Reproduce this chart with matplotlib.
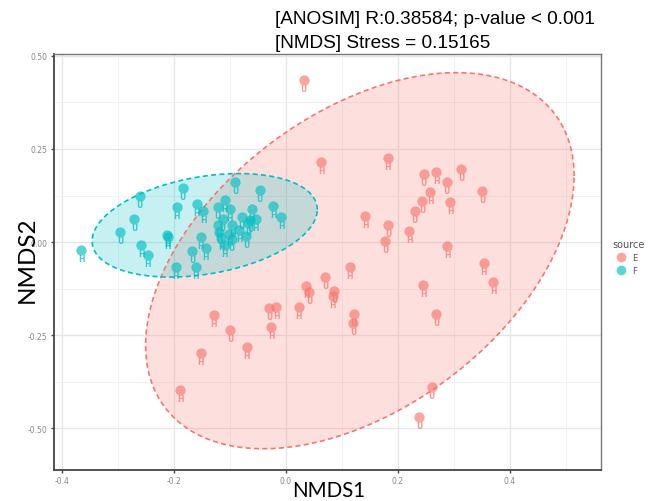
import numpy as np
import matplotlib.pyplot as plt
from matplotlib.lines import Line2D

# source E (red)
e_x = [0.032, 0.063, 0.182, 0.246, 0.268, 0.313, 0.287, 0.258, 0.350, 0.243,
       0.293, 0.230, 0.142, 0.183, 0.220, 0.177, 0.288, 0.114, 0.070, 0.353,
       0.370, 0.086, 0.084, 0.245, 0.121, 0.120, 0.268, 0.036, 0.042, 0.023,
       -0.030, -0.017, -0.026, -0.070, -0.100, -0.129, -0.152, -0.189, 0.260, 0.238]
e_y = [0.436, 0.214, 0.226, 0.183, 0.187, 0.195, 0.161, 0.134, 0.136, 0.110,
       0.108, 0.083, 0.070, 0.047, 0.030, 0.003, -0.011, -0.068, -0.093, -0.055,
       -0.106, -0.132, -0.144, -0.116, -0.194, -0.217, -0.193, -0.117, -0.134, -0.174,
       -0.178, -0.175, -0.227, -0.282, -0.237, -0.196, -0.299, -0.396, -0.389, -0.469]
e_lab = ['U', 'H', 'H', 'U', 'H', 'U', 'U', 'H', 'U', 'U',
         'H', 'U', 'H', 'U', 'H', 'U', 'H', 'H', 'U', 'H',
         'H', 'U', 'H', 'H', 'U', 'U', 'U', 'H', 'U', 'H',
         'U', 'H', 'H', 'H', 'U', 'H', 'H', 'H', 'U', 'U']

# source F (cyan)
f_x = [-0.365, -0.296, -0.271, -0.261, -0.258, -0.247, -0.212, -0.211, -0.197, -0.195,
       -0.184, -0.167, -0.161, -0.159, -0.152, -0.148, -0.143, -0.122, -0.109, -0.100,
       -0.090, -0.047, -0.023, -0.008, -0.113, -0.121, -0.119, -0.096, -0.079, -0.061,
       -0.064, -0.054, -0.083, -0.071, -0.101, -0.109, -0.097, -0.115, -0.067]
f_y = [-0.020, 0.028, 0.061, 0.123, -0.009, -0.035, 0.019, 0.013, -0.068, 0.094,
       0.144, -0.025, -0.068, 0.101, 0.013, 0.083, -0.017, 0.094, 0.114, 0.090,
       0.161, 0.139, 0.096, 0.068, 0.063, 0.045, 0.028, 0.045, 0.068, 0.088,
       0.059, 0.063, 0.032, 0.017, 0.023, -0.008, 0.008, 0.010, 0.050]
f_lab = ['H', 'U', 'U', 'U', 'H', 'H', 'H', 'H', 'H', 'H',
         'U', 'U', 'H', 'H', 'H', 'H', 'H', 'U', 'H', 'H',
         'U', 'U', 'H', 'H', 'U', 'H', 'U', 'H', 'U', 'H',
         'U', 'H', 'H', 'U', 'H', 'H', 'U', 'H', 'U']

# ellipse centre and shape matrix per group
e_center = [0.132, -0.050]
e_shape = [[0.1463, 0.087], [0.087, 0.255]]
f_center = [-0.145, 0.045]
f_shape = [[0.0404, 0.0085], [0.0085, 0.0193]]

red = '#F8766D'
cyan = '#00BFC4'

fig = plt.figure(figsize=(6.48, 5.02), dpi=100)
ax = fig.add_axes([54 / 648, 31 / 502, 547 / 648, 416 / 502])


def draw_ellipse(center, shape, color):
    t = np.linspace(0, 2 * np.pi, 300)
    L = np.linalg.cholesky(np.array(shape))
    pts = np.array(center)[:, None] + L @ np.vstack([np.cos(t), np.sin(t)])
    ax.fill(pts[0], pts[1], color=color, alpha=0.22, lw=0, zorder=1)
    ax.plot(pts[0], pts[1], color=color, lw=1.2, ls=(0, (3, 2)), zorder=2)


draw_ellipse(e_center, e_shape, red)
draw_ellipse(f_center, f_shape, cyan)

for xs, ys, labs, col in [(e_x, e_y, e_lab, red), (f_x, f_y, f_lab, cyan)]:
    ax.scatter(xs, ys, s=55, color=col, alpha=0.65, lw=0, zorder=3)
    for x, y, lab in zip(xs, ys, labs):
        ax.annotate(lab, (x, y), xytext=(0, -8.5), textcoords='offset pixels',
                    ha='center', va='center', fontsize=5.5, fontweight='bold',
                    color=col, alpha=0.75, zorder=4)

ax.set_xlim(-0.414, 0.5625)
ax.set_ylim(-0.612, 0.505)
ax.set_xticks([-0.4, -0.2, 0.0, 0.2, 0.4])
ax.set_xticklabels(['-0.4', '-0.2', '0.0', '0.2', '0.4'])
ax.set_yticks([-0.5, -0.25, 0.0, 0.25, 0.5])
ax.set_yticklabels(['-0.50', '-0.25', '0.00', '0.25', '0.50'])
ax.set_xticks([-0.3, -0.1, 0.1, 0.3, 0.5], minor=True)
ax.set_yticks([-0.375, -0.125, 0.125, 0.375], minor=True)
ax.grid(True, which='major', color='#E6E6E6', lw=0.9)
ax.grid(True, which='minor', color='#F0F0F0', lw=0.6)
ax.set_axisbelow(True)
ax.tick_params(which='major', length=2.5, width=1, colors='#444444', labelsize=5.5,
               labelcolor='#888888', pad=2)
ax.tick_params(which='minor', length=0)
for side in ['left', 'bottom']:
    ax.spines[side].set_color('#444444')
    ax.spines[side].set_linewidth(1.3)
for side in ['top', 'right']:
    ax.spines[side].set_color('#777777')
    ax.spines[side].set_linewidth(1.0)

fig.text(329 / 648, 1 - 491 / 502, 'NMDS1', fontsize=14.8, family='Lato',
         ha='center', va='center')
fig.text(27 / 648, 1 - 260 / 502, 'NMDS2', fontsize=17.5, family='Lato',
         ha='center', va='center', rotation=90)

fig.text(275 / 648, 1 - 19 / 502, '[ANOSIM] R:0.38584; p-value < 0.001',
         fontsize=13.7, family='Liberation Sans', va='center', ha='left')
fig.text(275 / 648, 1 - 43 / 502, '[NMDS] Stress = 0.15165',
         fontsize=13.7, family='Liberation Sans', va='center', ha='left')

handles = [Line2D([], [], marker='o', ls='', color=red, alpha=0.65, markersize=7, mew=0),
           Line2D([], [], marker='o', ls='', color=cyan, alpha=0.65, markersize=7, mew=0)]
leg = fig.legend(handles, ['E', 'F'], title='source', loc='upper left',
                 bbox_to_anchor=(611 / 648, 1 - 238 / 502), frameon=False,
                 fontsize=6, title_fontsize=7, handletextpad=0.3, labelspacing=0.5,
                 borderpad=0.2, borderaxespad=0)
leg._legend_box.align = 'left'
leg.get_title().set_color('#555555')
for txt in leg.get_texts():
    txt.set_color('#555555')

fig.savefig('out.png', dpi=100)
